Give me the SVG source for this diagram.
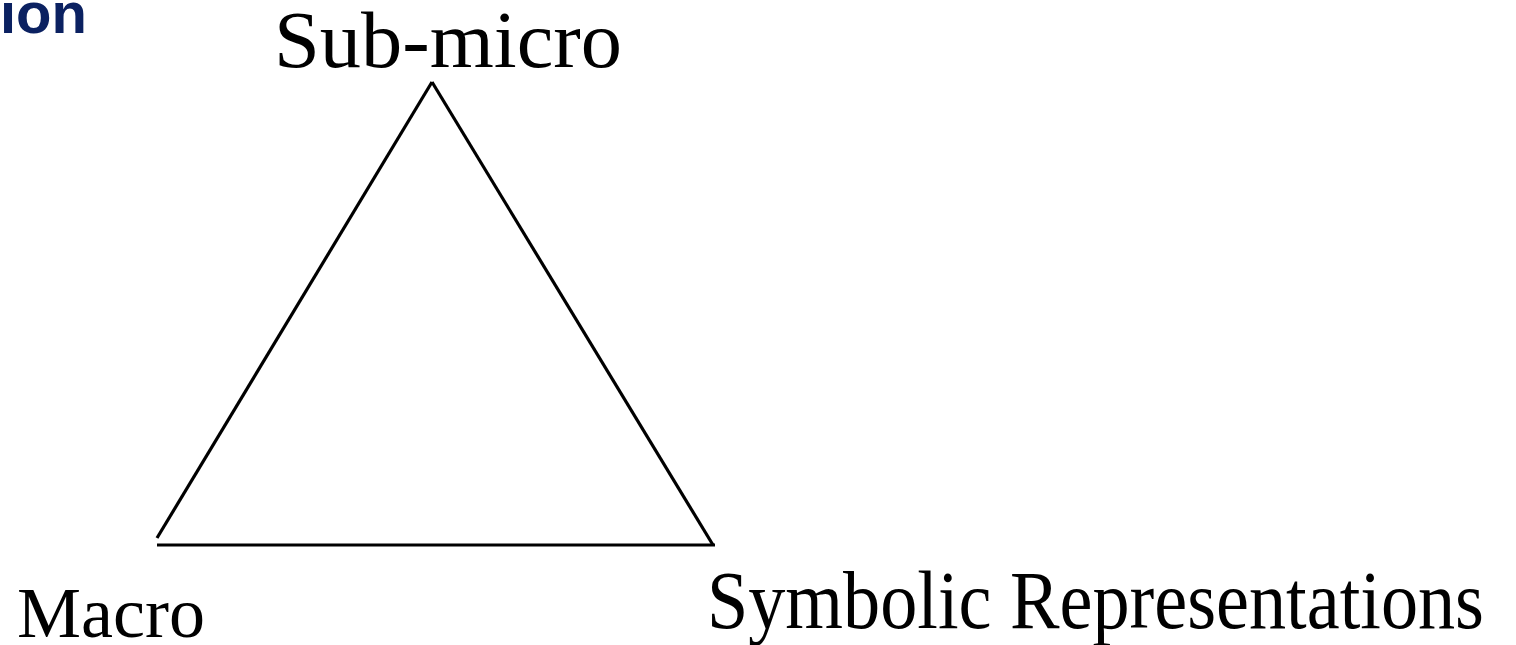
<svg xmlns="http://www.w3.org/2000/svg" width="1516" height="645" viewBox="0 0 1516 645">
<style>
.lbl{font-family:"Liberation Serif","Times New Roman",serif;fill:#000}
.edge{stroke:#000;stroke-width:3.2;fill:none}
</style>
<rect width="1516" height="645" fill="#fff"/>
<text x="0" y="33" font-family="Liberation Sans, Arial, sans-serif" font-weight="bold" font-size="58" fill="#0b2161">ion</text>
<g id="connectors">
<line class="edge" x1="432" y1="82" x2="157" y2="538"/>
<line class="edge" x1="432" y1="82" x2="713" y2="545"/>
<line class="edge" x1="157" y1="545" x2="715" y2="545"/>
</g>
<g id="node-submicro"><text class="lbl" x="274" y="67" font-size="80" textLength="348" lengthAdjust="spacingAndGlyphs">Sub-micro</text></g>
<g id="node-macro"><text class="lbl" x="17" y="637" font-size="72" textLength="188" lengthAdjust="spacingAndGlyphs">Macro</text></g>
<g id="node-symbolic"><text class="lbl" x="707" y="628" font-size="82" textLength="777" lengthAdjust="spacingAndGlyphs">Symbolic Representations</text></g>
</svg>
